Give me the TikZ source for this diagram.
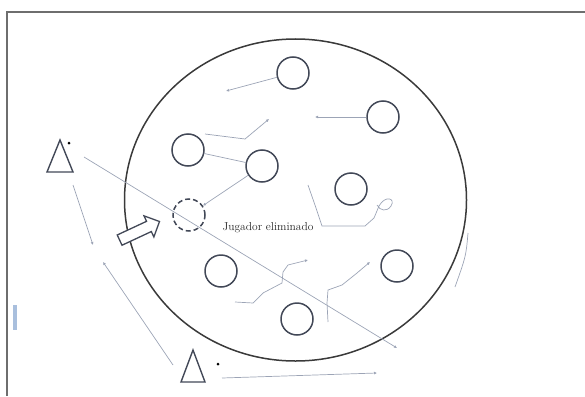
\documentclass[tikz,border=0pt]{standalone}
\usetikzlibrary{arrows.meta,shapes.arrows}

\definecolor{marcogris}{HTML}{6E6E6E}
\definecolor{campogris}{HTML}{3A3A3A}
\definecolor{jugborde}{HTML}{424857}
\definecolor{lineagris}{HTML}{9CA4B6}
\definecolor{azulclaro}{HTML}{A9BFDD}

\begin{document}
\begin{tikzpicture}[x=1pt,y=-1pt,
  jugador/.style={circle,draw=jugborde,line width=1.5pt,minimum size=32pt,inner sep=0pt},
  eliminado/.style={jugador,dashed,dash pattern=on 5pt off 3pt},
  defensor/.style={draw=jugborde,line width=1.4pt,line join=miter},
  recorrido/.style={draw=lineagris,line width=0.7pt,-{Latex[length=3pt,width=3pt]}},
  pase/.style={draw=lineagris,line width=0.7pt}]

\useasboundingbox (0,0) rectangle (585,396);

% ===== Marco y campo =====
\draw[marcogris,line width=1.3pt] (7,396) -- (7,12) -- (585,12);
\fill[azulclaro] (13,305) rectangle (17,330);
\draw[campogris,line width=1.5pt] (295.5,200) ellipse [x radius=171pt, y radius=161pt];

% ===== Jugadores =====
\foreach \n/\x/\y in {1/293/73, 2/383/117, 3/188/150, 4/262/166, 5/351/189,
                      6/221/271, 7/397/266, 8/297/319} {
    \node[jugador] (j\n) at (\x,\y) {};
}
\node[eliminado] (je) at (189,215) {};
\node[text=black!85,font=\fontsize{11.5}{13}\selectfont] (txt) at (268,228) {Jugador eliminado};

% ===== Defensores =====
\coordinate (d1) at (60,156);
\coordinate (d2) at (193,366);
\draw[defensor] (d1) ++(-13,16) -- ++(13,-32) -- ++(13,32) -- cycle;
\draw[defensor] (d2) ++(-12,16) -- ++(12,-32) -- ++(12,32) -- cycle;
\fill (69,143) circle (1.5pt);
\fill (218,364) circle (1.5pt);

% ===== Flecha =====
\node[single arrow,draw=jugborde,fill=white,line width=1.3pt,minimum height=44pt,
      inner xsep=0pt,inner ysep=5pt,single arrow head extend=6pt,rotate=25]
      (fl) at (137,232) {};

% ===== Recorridos =====
\draw[recorrido] (j1) -- (226,91);
\draw[recorrido] (j2) -- (315,117);
\draw[recorrido] (205,134) -- (245,139) -- (269,119);
\draw[pase] (j3) -- (j4);
\draw[recorrido] (j4) -- (je);
\draw[recorrido] (84,157) -- (397,348);
\draw[recorrido] (73,185) -- (93,245);
\draw[recorrido] (173,365) -- (103,262);
\draw[recorrido] (222,378) -- (377,373);
\draw[pase] (308,185) -- (316,208) -- (322,226) -- (365,226) -- (374,218) -- (379,206)
    .. controls (385,195) and (396,198) .. (391,206) .. controls (387,212) and (380,211) .. (377,205);
\draw[recorrido] (235,302) -- (253,303) -- (263,293) -- (282,283) -- (283,272) -- (288,265) -- (308,260);
\draw[recorrido] (328,322) -- (327,303) -- (328,290) -- (342,285) -- (357,273) -- (370,262);
\draw[pase] (468,233) .. controls (466,256) .. (455,287);

\end{tikzpicture}
\end{document}
